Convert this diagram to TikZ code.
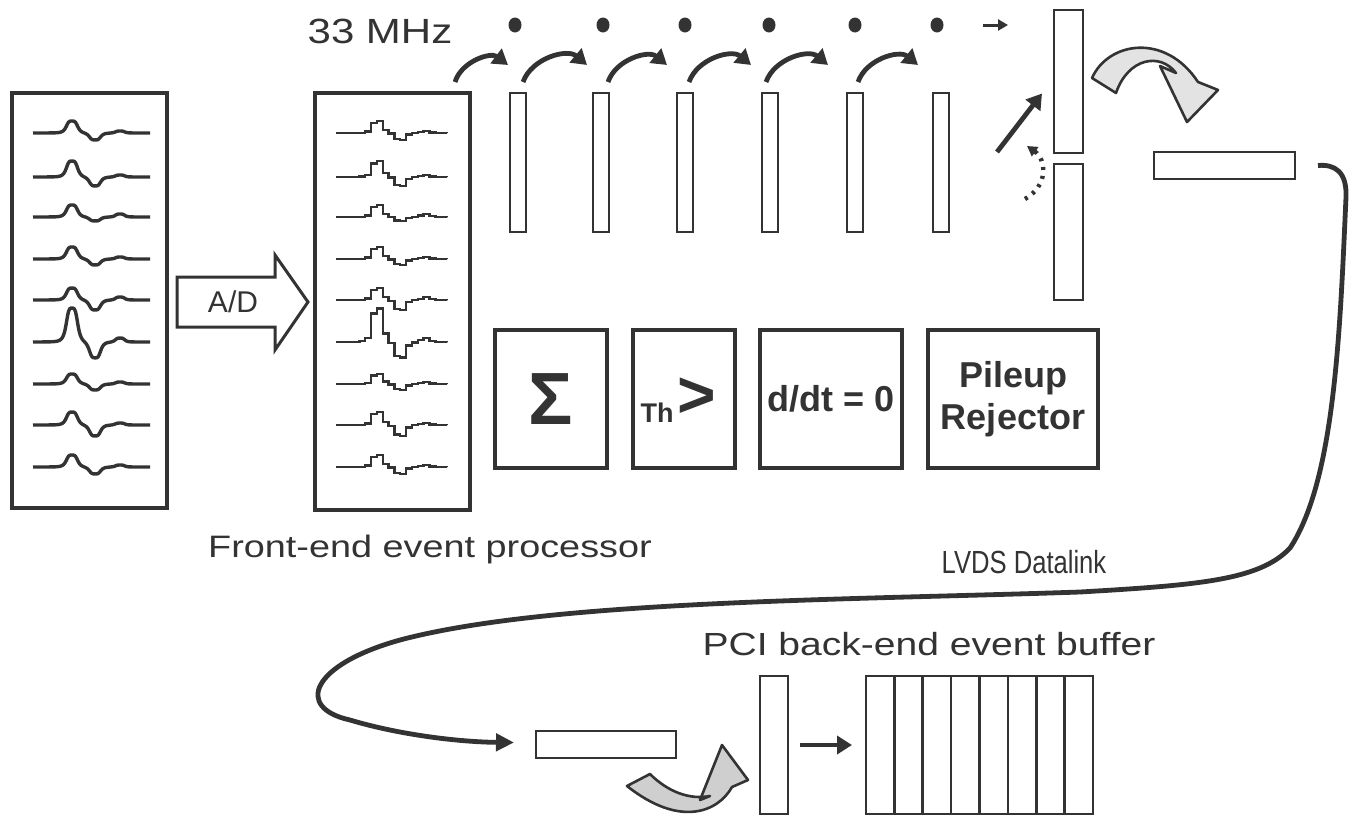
\documentclass[tikz,border=0pt]{standalone}
\usepackage{fontspec}
\setmainfont{Liberation Sans}
\usepackage{graphicx}
\usetikzlibrary{arrows.meta,calc}
\definecolor{ink}{gray}{0.2}
\begin{document}
\begin{tikzpicture}[x=1pt,y=-1pt,
  box/.style={draw=ink, line width=3.4pt, inner sep=0pt, outer sep=0pt, anchor=north west},
  reg/.style={draw=ink, line width=2.8pt, inner sep=0pt, outer sep=0pt, anchor=north west},
  wave/.style={draw=ink, line width=3.4pt, line join=round},
  dig/.style={draw=ink, line width=2.4pt},
  shiftarrow/.style={draw=ink, line width=4.8pt, -{Triangle[length=15pt,width=18pt]}},
  fatarrow/.style={draw=ink, line width=2.6pt, fill=gray!22, line join=round},
  lbl/.style={text=ink, inner sep=0pt, anchor=base},
  boldlbl/.style={font=\fontsize{36}{42}\selectfont\bfseries, text=ink, align=center},
  declare function={bp(\t,\c,\w)=1/(1+min(((\t-\c)/\w)*((\t-\c)/\w),100)*min(((\t-\c)/\w)*((\t-\c)/\w),100));}
]
\fill[white] (0,0) rectangle (1360,822);
\useasboundingbox (0,0) rectangle (1360,822);

% panels
\node[box, minimum width=155pt, minimum height=415pt] (an) at (12,93) {};
\node[box, minimum width=155pt, minimum height=417pt] (fe) at (315,93) {};

% waveforms
\foreach \yy/\h/\d/\e in {133/12/7/2, 177/16/9/2, 217/12/4/3, 259/12/6/2, 300/12/10/3, 342/34/16/4, 384/10/6/2, 425/13/11/2, 467/12/7/2} {
  \draw[wave] plot[domain=33:150, samples=100, smooth] (\x, {\yy - \h*bp(\x,72,6) + \d*bp(\x,95,6) - \e*bp(\x,120,5)});
  \draw[dig] plot[const plot, domain=336:447, samples=20] (\x, {\yy - \h*bp(\x-303,72,6) + \d*bp(\x-303,95,6) - \e*bp(\x-303,120,5)});
}

% A/D arrow
\draw[ink, line width=3pt, line join=miter] (177,277) -- (275,277) -- (275,255) -- (308,302) -- (275,350) -- (275,327) -- (177,327) -- cycle;
\node[lbl, font=\fontsize{30}{30}\selectfont, anchor=center] (ad) at (233,302) {A/D};

% clock
\node[lbl, font=\fontsize{35}{35}\selectfont] (mhz) at (380,43) {\scalebox{1.2}[1]{33 MHz}};
\foreach \xx in {515,603,685,769,855,937} \fill[ink] (\xx,25) ellipse [x radius=6.5pt, y radius=7.5pt];
\coordinate (ca) at (983,25);
\coordinate (cb) at (1008,25);
\draw[ink, line width=3pt, -{Triangle[length=10pt,width=11pt]}] (ca) -- (cb);

% registers
\foreach \i/\xx in {1/510,2/593,3/677,4/762,5/847,6/933}
  \node[reg, minimum width=16pt, minimum height=139pt] (r\i) at (\xx,93) {};

% shift arrows
\foreach \i/\sx/\ex in {1/455/508, 2/523/587, 3/608/667, 4/689/751, 5/766/828, 6/858/918} {
  \coordinate (s\i) at (\sx,82);
  \coordinate (e\i) at (\ex,65);
  \draw[shiftarrow] (s\i) to[bend left=55] (e\i);
}

% right registers
\node[reg, minimum width=29pt, minimum height=143pt] (ru) at (1054,10) {};
\node[reg, minimum width=29pt, minimum height=136pt] (rl) at (1054,164) {};
\node[reg, minimum width=141pt, minimum height=27pt] (hr) at (1154,152) {};

\coordinate (ua) at (997,152);
\draw[shiftarrow] (ua) -- ([xshift=-12pt,yshift=-12pt]ru.west);
\coordinate (da) at (1025,199);
\draw[ink, line width=4.4pt, dash pattern=on 3pt off 6pt, -{Triangle[length=10pt,width=11pt]}]
  (da) .. controls (1048,186) and (1047,160) .. (1027,146);

% big gray arrow
\path[fatarrow] (1116,93) -- (1092,78) .. controls (1108,42) and (1165,32) .. (1198,82)
  -- (1218,90) -- (1187,122) -- (1160,66) -- (1176,73)
  .. controls (1160,52) and (1128,58) .. (1116,93) -- cycle;

% function boxes
\node[box, minimum width=112pt, minimum height=138pt, font=\fontsize{74}{74}\selectfont\bfseries, text=ink] (sig) at (495,330) {Σ};
\node[box, minimum width=102pt, minimum height=138pt] (th) at (633,330) {};
\node[font=\fontsize{27}{27}\selectfont\bfseries, text=ink] (thl) at (657,413) {Th};
\node[font=\fontsize{66}{66}\selectfont\bfseries, text=ink] (gt) at (697,398) {>};
\node[box, minimum width=142pt, minimum height=138pt] (dd) at (760,330) {};
\node[boldlbl] at (dd.center) {d/dt = 0};
\node[box, minimum width=170pt, minimum height=138pt] (pr) at (928,330) {};
\node[boldlbl] at (pr.center) {Pileup\\Rejector};

% labels
\node[lbl, font=\fontsize{31}{31}\selectfont] (fel) at (430,557) {\scalebox{1.22}[1]{Front-end event processor}};
\node[lbl, font=\fontsize{32}{32}\selectfont] (lvds) at (1024,573) {\scalebox{0.8}[1]{LVDS Datalink}};
\node[lbl, font=\fontsize{32}{32}\selectfont] (pcil) at (929,655) {\scalebox{1.22}[1]{PCI back-end event buffer}};

% bottom
\node[reg, minimum width=140pt, minimum height=27pt] (hb) at (536,731) {};
\node[reg, minimum width=28pt, minimum height=138pt] (tb) at (760,676) {};
\node[reg, minimum width=227pt, minimum height=138pt] (bf) at (866,676) {};
\foreach \k in {1,...,7}
  \draw[ink, line width=2.6pt] ($(bf.north west)!\k/8!(bf.north east)$) -- ($(bf.south west)!\k/8!(bf.south east)$);
\draw[shiftarrow] ([xshift=12pt]tb.east) -- ([xshift=-14pt]bf.west);

% bottom gray arrow
\path[fatarrow, fill=gray!38] (627,786) -- (650,774) .. controls (668,792) and (690,800) .. (710,796)
  -- (700,800) -- (722,745) -- (748,780) -- (732,787)
  .. controls (718,812) and (680,828) .. (627,786) -- cycle;

% LVDS cable
\draw[ink, line width=4.8pt, -{Triangle[length=18pt,width=17pt]}]
  ([xshift=23pt]hr.east) .. controls (1335,164) and (1347,172) .. (1346,197)
  .. controls (1340,330) and (1335,480) .. (1290,548)
  .. controls (1260,580) and (1200,585) .. (1080,592)
  .. controls (850,600) and (550,600) .. (400,640)
  .. controls (310,665) and (295,708) .. (350,720)
  .. controls (400,735) and (460,742) .. ([xshift=-22pt,yshift=2pt]hb.west);
\end{tikzpicture}
\end{document}
